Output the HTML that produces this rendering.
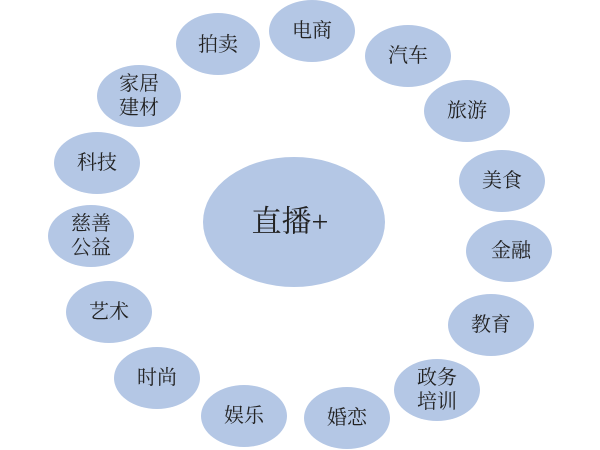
<!DOCTYPE html>
<html><head><meta charset="utf-8"><style>
html,body{margin:0;padding:0;background:#fff;}
svg{display:block}
text{font-family:"Liberation Serif","Noto Serif CJK SC",serif;fill:#222;text-anchor:middle;dominant-baseline:central;}
</style></head><body>
<svg width="600" height="450" viewBox="0 0 600 450">
<g fill="#b4c7e5">
<ellipse cx="294" cy="222" rx="91" ry="65"/>
<ellipse cx="312" cy="31" rx="43" ry="31"/>
<ellipse cx="218" cy="44" rx="42" ry="31"/>
<ellipse cx="408" cy="56" rx="43" ry="31"/>
<ellipse cx="139" cy="96" rx="42" ry="31"/>
<ellipse cx="467" cy="111" rx="43" ry="31"/>
<ellipse cx="97" cy="163" rx="43" ry="31"/>
<ellipse cx="502" cy="181" rx="43" ry="31"/>
<ellipse cx="91" cy="236" rx="43" ry="31"/>
<ellipse cx="509" cy="251" rx="43" ry="31"/>
<ellipse cx="109" cy="312" rx="43" ry="31"/>
<ellipse cx="491" cy="325" rx="43" ry="31"/>
<ellipse cx="157" cy="378" rx="43" ry="31"/>
<ellipse cx="437" cy="390" rx="43" ry="31"/>
<ellipse cx="244" cy="416" rx="43" ry="31"/>
<ellipse cx="347" cy="418" rx="43" ry="31"/>
</g>
<g font-size="20">
<text x="290" y="222" font-size="30">直播+</text>
<text x="312" y="31">电商</text>
<text x="218" y="45">拍卖</text>
<text x="408" y="56">汽车</text>
<text x="139" y="84">家居</text>
<text x="139" y="108">建材</text>
<text x="467" y="111">旅游</text>
<text x="97" y="163">科技</text>
<text x="502" y="181">美食</text>
<text x="91" y="224">慈善</text>
<text x="91" y="248">公益</text>
<text x="511" y="251">金融</text>
<text x="491" y="325">教育</text>
<text x="109" y="312">艺术</text>
<text x="157" y="378">时尚</text>
<text x="437" y="378">政务</text>
<text x="437" y="402">培训</text>
<text x="244" y="416">娱乐</text>
<text x="347" y="418">婚恋</text>
</g>
</svg>
</body></html>
